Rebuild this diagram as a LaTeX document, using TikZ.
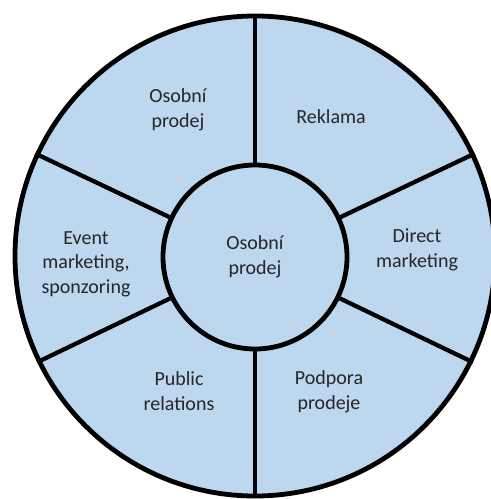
\documentclass[tikz,border=0pt]{standalone}
\usepackage{fontspec}
\setmainfont{Carlito}
\usetikzlibrary{positioning}
\definecolor{wheel-blue}{HTML}{BDD7EE}
\definecolor{label-gray}{HTML}{262626}

\begin{document}
\begin{tikzpicture}[x=0.75pt,y=-0.75pt]
  \tikzstyle{wheel} = [circle, draw=black, line width=3.6pt, fill=wheel-blue, inner sep=0pt]
  \tikzstyle{spoke} = [line width=3.2pt, draw=black]
  \tikzstyle{lbl} = [align=center, text=label-gray, font=\fontsize{15}{18.4}\selectfont]
  \useasboundingbox (0,0) rectangle (490,499);
% Outer ring and hub.
    \node[wheel, minimum size=360pt] (ring) at (255,256) {};
    \node[wheel, lbl, minimum size=138pt] (hub) at (255,257) {Osobní\\prodej};
% Spokes between hub and ring.
    \foreach \a in {25,90,155,206,270,334}
      \draw[spoke] (hub.\a) -- (ring.\a);
% Sector labels.
    \node[lbl] (osobni) at (178,110) {Osobní\\prodej};
    \node[lbl] (reklama) at (331,117) {Reklama};
    \node[lbl] (direct) at (417,250) {Direct\\marketing};
    \node[lbl] (podpora) at (329,392) {Podpora\\prodeje};
    \node[lbl] (public) at (179,391) {Public\\relations};
    \node[lbl] (event) at (86,264) {Event\\marketing,\\sponzoring};
  \end{tikzpicture}
\end{document}
